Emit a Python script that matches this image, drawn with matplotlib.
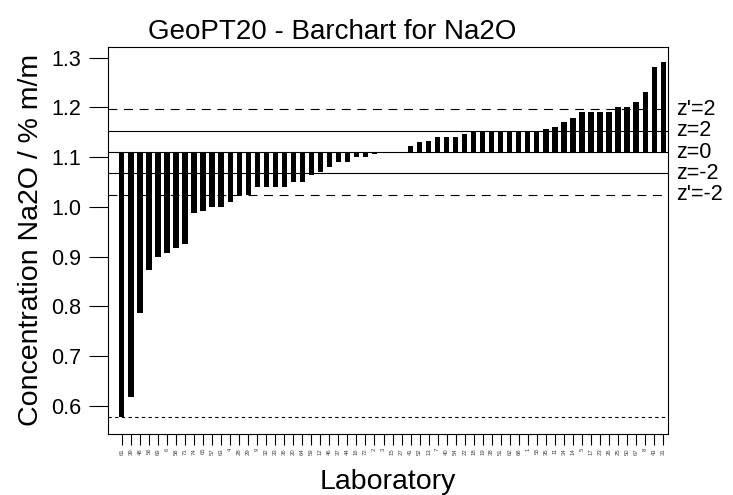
import numpy as np
import matplotlib
matplotlib.use("Agg")
import matplotlib.pyplot as plt
import matplotlib.transforms as mtransforms

plt.rcParams['font.family'] = ['Liberation Sans', 'DejaVu Sans']

# laboratory codes, sorted by reported value
labs = [61, 39, 48, 56, 69, 6, 58, 71, 74, 65, 57, 63, 4, 28, 29, 9, 32, 33, 36, 20,
        64, 59, 12, 46, 37, 44, 16, 72, 2, 3, 15, 27, 41, 52, 13, 7, 40, 54, 22, 18,
        19, 38, 51, 62, 68, 1, 55, 35, 11, 34, 14, 5, 17, 23, 26, 25, 50, 67, 8, 43, 31]

# Na2O concentration, % m/m
conc = [0.577, 0.618, 0.786, 0.873, 0.899, 0.907, 0.917, 0.926, 0.987, 0.991,
        0.999, 0.999, 1.010, 1.024, 1.024, 1.040, 1.040, 1.040, 1.040, 1.050,
        1.050, 1.063, 1.069, 1.080, 1.091, 1.091, 1.100, 1.100, 1.106, 1.110,
        1.110, 1.110, 1.122, 1.130, 1.133, 1.140, 1.140, 1.140, 1.147, 1.151,
        1.151, 1.151, 1.151, 1.151, 1.151, 1.153, 1.153, 1.157, 1.161, 1.171,
        1.179, 1.191, 1.191, 1.191, 1.191, 1.200, 1.200, 1.210, 1.231, 1.281, 1.292]

assigned = 1.110
sigma_z = 0.0215
sigma_zp = 0.043
low_line = 0.577

fig = plt.figure(figsize=(7.33, 4.95), dpi=100)
ax = fig.add_axes([0.1478, 0.1232, 0.7631, 0.7825])

x = np.arange(len(labs))
heights = np.array(conc) - assigned
ax.bar(x, heights, bottom=assigned, width=0.58, color='black', linewidth=0)

# z-score reference lines
ax.axhline(assigned, color='black', lw=0.8)
ax.axhline(assigned + 2 * sigma_z, color='black', lw=0.8)
ax.axhline(assigned - 2 * sigma_z, color='black', lw=0.8)
ax.axhline(assigned + 2 * sigma_zp, color='black', lw=0.8, dashes=(8, 6))
ax.axhline(assigned - 2 * sigma_zp, color='black', lw=0.8, dashes=(8, 6))
ax.axhline(low_line, color='black', lw=0.8, dashes=(3, 3))

trans = mtransforms.blended_transform_factory(ax.transAxes, ax.transData)
ztext = [("z'=2", assigned + 2 * sigma_zp), ("z=2", assigned + 2 * sigma_z),
         ("z=0", assigned), ("z=-2", assigned - 2 * sigma_z),
         ("z'=-2", assigned - 2 * sigma_zp)]
for txt, yv in ztext:
    ax.text(1.015, yv, txt, transform=trans, ha='left', va='center',
            fontsize=15.5, clip_on=False)

ax.set_xlim(-1.5, len(labs) - 0.5)
ax.set_ylim(0.543, 1.322)
ax.set_yticks(np.arange(0.6, 1.31, 0.1))
ax.set_yticklabels([f"{v:.1f}" for v in np.arange(0.6, 1.31, 0.1)])
ax.set_xticks(x)
ax.set_xticklabels([str(l) for l in labs], rotation=90, fontsize=4.3, color='#444444')

ax.tick_params(axis='y', length=13.5, width=0.8, pad=6, labelsize=15.5)
ax.tick_params(axis='x', length=8, width=0.8, pad=2)
for sp in ax.spines.values():
    sp.set_linewidth(0.8)

fig.text(332 / 733, 1 - 39 / 495, "GeoPT20 - Barchart for Na2O", ha='center',
         va='baseline', fontsize=20)
fig.text(31 / 733, 1 - 240 / 495, "Concentration Na2O / % m/m", rotation=90,
         ha='center', va='center', fontsize=20.5)
fig.text(388 / 733, 1 - 489 / 495, "Laboratory", ha='center', va='baseline',
         fontsize=20.5)

fig.savefig("out.png", dpi=100)
